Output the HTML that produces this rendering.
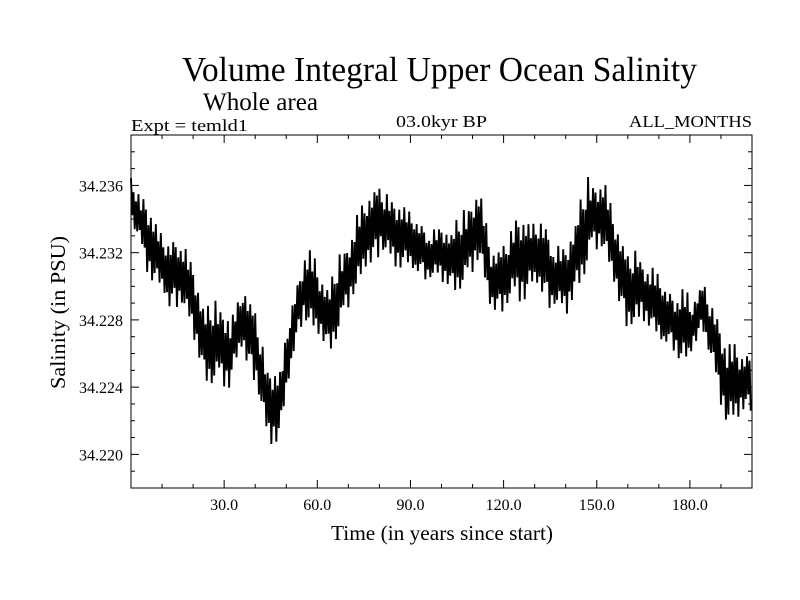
<!DOCTYPE html>
<html><head><meta charset="utf-8"><style>
html,body{margin:0;padding:0;background:#fff;}
svg{display:block;font-family:"Liberation Serif",serif;}
</style></head><body>
<svg id="chart" width="800" height="600" viewBox="0 0 800 600">
<text x="182" y="81" font-size="35" textLength="515" lengthAdjust="spacingAndGlyphs">Volume Integral Upper Ocean Salinity</text>
<text x="203" y="110" font-size="25" textLength="115" lengthAdjust="spacingAndGlyphs">Whole area</text>
<text x="131" y="131" font-size="17" textLength="117" lengthAdjust="spacingAndGlyphs">Expt = temld1</text>
<text x="396" y="127" font-size="17" textLength="91" lengthAdjust="spacingAndGlyphs">03.0kyr BP</text>
<text x="629" y="127" font-size="17" textLength="123" lengthAdjust="spacingAndGlyphs">ALL_MONTHS</text>
<text x="331" y="540" font-size="21" textLength="222" lengthAdjust="spacingAndGlyphs">Time (in years since start)</text>
<text transform="translate(65,389) rotate(-90)" font-size="21" textLength="153" lengthAdjust="spacingAndGlyphs">Salinity (in PSU)</text>
<g id="plot"></g>
</svg>
<script>
const binStarts = [0,4,8,12,16,20,24,28,32,36,40,44,48,52,56,60,64,68,72,76,80,84,88,92,96,100,104,108,112,116,120,124,128,132,136,140,144,148,152,156,160,164,168,172,176,180,184,188,192,196];
const highVals = [34.2365,34.2355,34.2337,34.2329,34.2329,34.2313,34.2289,34.2289,34.2279,34.2303,34.2285,34.2252,34.2249,34.2293,34.2325,34.2311,34.2303,34.2319,34.2339,34.2355,34.2359,34.2353,34.2347,34.2341,34.2333,34.2337,34.2339,34.2345,34.2359,34.2323,34.2325,34.2343,34.2337,34.2343,34.2325,34.2325,34.2349,34.2361,34.2365,34.2341,34.2319,34.2317,34.2311,34.2301,34.2299,34.2289,34.2305,34.2289,34.2265,34.2261];
const lowVals = [34.2337,34.2313,34.2301,34.2287,34.2289,34.2271,34.2237,34.2243,34.2243,34.2260,34.2243,34.2206,34.2210,34.2258,34.2277,34.2273,34.2255,34.2279,34.2293,34.2311,34.2321,34.2313,34.2311,34.2309,34.2303,34.2303,34.2291,34.2301,34.2317,34.2285,34.2283,34.2291,34.2297,34.2297,34.2287,34.2282,34.2293,34.2321,34.2321,34.2297,34.2273,34.2282,34.2270,34.2267,34.2254,34.2260,34.2271,34.2242,34.2216,34.2226];
const xTickVals = [30,60,90,120,150,180];
const xTickLabels = ["30.0","60.0","90.0","120.0","150.0","180.0"];
const yTickVals = [34.220,34.224,34.228,34.232,34.236];
const yTickLabels = ["34.220","34.224","34.228","34.232","34.236"];

const L=131,R=752,T=135,B=488, X0=0,X1=200,Y0=34.218,Y1=34.239;
const sx=v=>L+(v-X0)/(X1-X0)*(R-L);
const sy=v=>B-(v-Y0)/(Y1-Y0)*(B-T);
const NS='http://www.w3.org/2000/svg';
const g=document.getElementById('plot');
function mk(tag,attrs){const e=document.createElementNS(NS,tag);for(const k in attrs)e.setAttribute(k,attrs[k]);g.appendChild(e);return e;}

// series (stroke style pattern of relative excursions per bin)
const pattern=[0.95,0.5,0.6,0.85,0.45,0.7,1,0.4,0.55,0.75];
let pts=[];
for(let i=0;i<binStarts.length;i++){
  const x0=binStarts[i], w=(i+1<binStarts.length?binStarts[i+1]:200)-x0;
  const hi=highVals[i], lo=lowVals[i], mid=(hi+lo)/2;
  const nh=i+1<binStarts.length?(highVals[i+1]+lowVals[i+1])/2:mid;
  const n=pattern.length;
  for(let k=0;k<n;k++){
    const t=k/n, c=mid+(nh-mid)*t;
    const a=pattern[(k+i*3)%n];
    const v = k%2===0 ? c+(hi-mid)*a : c-(mid-lo)*a;
    pts.push(sx(x0+w*t).toFixed(2)+','+sy(v).toFixed(2));
  }
}
const line=mk('polyline',{points:pts.join(' '),fill:'none',stroke:'#000','stroke-width':'1.9','stroke-linejoin':'miter'});



// frame
const fr=mk('rect',{x:L,y:T,width:R-L,height:B-T,fill:'none',stroke:'#000','stroke-width':'1'});



// x ticks
for(let v=10;v<200;v+=10){
  const maj=v%30===0, len=maj?8:4, x=sx(v);
  mk('line',{x1:x,x2:x,y1:B,y2:B-len,stroke:'#000'});
  mk('line',{x1:x,x2:x,y1:T,y2:T+len,stroke:'#000'});
}
xTickVals.forEach((v,i)=>{
  const t=mk('text',{x:sx(v),y:510,'font-size':'16','text-anchor':'middle'});
  t.textContent=xTickLabels[i];
  
  
});
// y ticks
for(let k=0;k<=20;k++){
  const v=34.218+k*0.001; if(v<=Y0+1e-9||v>=Y1-1e-9) continue;
  const maj=Math.abs(((v-34.220)/0.004)-Math.round((v-34.220)/0.004))<1e-6, len=maj?8:4, y=sy(v);
  mk('line',{x1:L,x2:L+len,y1:y,y2:y,stroke:'#000'});
  mk('line',{x1:R,x2:R-len,y1:y,y2:y,stroke:'#000'});
}
yTickVals.forEach((v,i)=>{
  const t=mk('text',{x:123,y:sy(v)+6,'font-size':'16','text-anchor':'end'});
  t.textContent=yTickLabels[i];
  
  
});
</script>
</body></html>
